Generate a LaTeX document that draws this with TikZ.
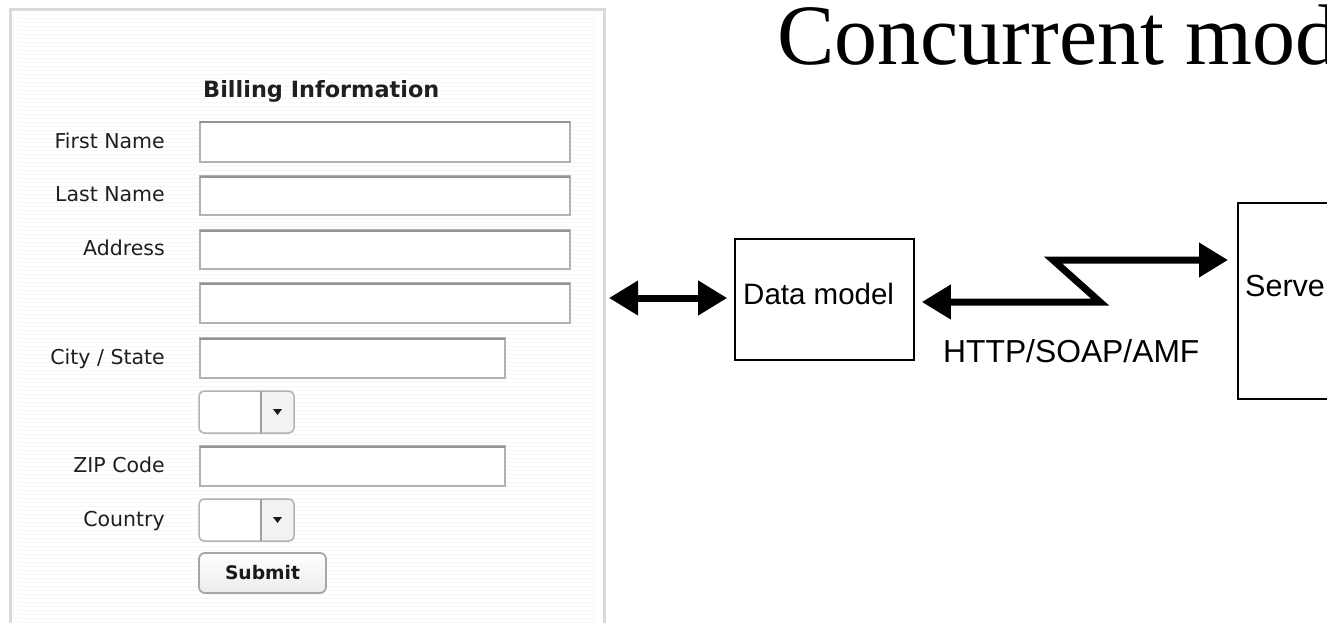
\documentclass[tikz,border=0pt]{standalone}
\usepackage{fontspec}
\setmainfont{Liberation Serif}
\newfontfamily\arialf{Liberation Sans}
\newfontfamily\formf{DejaVu Sans}
\usetikzlibrary{arrows.meta,calc}
\newcommand\txtfield[4]{%
  \draw[field] (#1,#2) rectangle (#3,#4);
  \draw[fieldtop] (#1,#2+0.5) -- (#3,#2+0.5);}
\newcommand\ddfield[2]{%
  \fill[white, rounded corners=5pt] (199,#1) rectangle (294,#2);
  \begin{scope}
    \clip[rounded corners=5pt] (199,#1) rectangle (294,#2);
    \fill[gray!10] (261,#1) rectangle (294,#2);
  \end{scope}
  \draw[gray!60, line width=1.5pt, rounded corners=5pt] (199,#1) rectangle (294,#2);
  \draw[gray!75, line width=1.5pt] (261,#1) -- (261,#2);
  \fill[black!90] (273,{(#1+#2)/2-3}) -- (282,{(#1+#2)/2-3}) -- (277.5,{(#1+#2)/2+3}) -- cycle;}
\begin{document}
\begin{tikzpicture}[x=1pt,y=-1pt,
  field/.style={draw=gray!60, line width=1.5pt, fill=white},
  fieldtop/.style={draw=gray!85, line width=2pt},
  lbl/.style={anchor=base east, inner sep=0, text=black!88, font=\formf\fontsize{20.5}{24}\selectfont},
  box/.style={draw=black, line width=1.6pt, inner sep=0},
  bigarrow/.style={line width=7pt, line join=miter, {Triangle[length=29pt,width=33pt]}-{Triangle[length=29pt,width=33pt]}},
  sanslbl/.style={anchor=base west, inner sep=0, font=\arialf\fontsize{29.5}{34}\selectfont},
]
\useasboundingbox (0,0) rectangle (1327,623);
\clip (0,0) rectangle (1327,623);
\fill[white] (0,0) rectangle (1327,623);

% form panel
\foreach \yy in {14,18,...,622} \draw[gray!6, line width=0.8pt] (18,\yy) -- (596,\yy);
\draw[gray!30, line width=3pt] (604,650) -- (604,9.5) -- (10,9.5) -- (10,650);

\node[anchor=base west, inner sep=0, text=black!88, font=\formf\bfseries\fontsize{22.4}{26}\selectfont] (bill) at (203,98) {Billing Information};

\txtfield{200}{122}{570}{162}
\txtfield{200}{176}{570}{215}
\txtfield{200}{230}{570}{269}
\txtfield{200}{283}{570}{323}
\txtfield{200}{338}{505}{378}
\ddfield{391}{433}
\txtfield{200}{446}{505}{486}
\ddfield{499}{541}

\node[lbl] (fn) at (165,148) {First Name};
\node[lbl] (ln) at (165,201.5) {Last Name};
\node[lbl] (ad) at (165,255.5) {Address};
\node[lbl] (cs) at (165,364) {City / State};
\node[lbl] (zc) at (165,472) {ZIP Code};
\node[lbl] (co) at (165,526) {Country};

\draw[rounded corners=6pt, draw=gray!70, line width=1.8pt, top color=white, bottom color=gray!15] (199,553) rectangle (326,593);
\node[inner sep=0, text=black!90, font=\formf\bfseries\fontsize{18.7}{22}\selectfont] (sub) at (262.5,573) {Submit};

% title
\node[anchor=base west, inner sep=0, font=\fontsize{86}{90}\selectfont] (title) at (777,65) {Concurrent mod};

% diagram
\node[box, minimum width=179pt, minimum height=121pt] (dm) at (824.5,299.5) {};
\node[sanslbl] (dmt) at (743,304) {Data model};
\node[box, minimum width=200pt, minimum height=196pt, anchor=north west] (srv) at (1237,202) {};
\node[sanslbl, font=\arialf\fontsize{30.5}{34}\selectfont] (srvt) at (1245,296) {Serve};

\coordinate (fr) at (609,298);
\draw[bigarrow] (fr) -- ($(dm.west)+(-7,-1.5)$);

\coordinate (z1) at (1100,302);
\coordinate (z2) at (1053,260);
\draw[bigarrow] ($(dm.east)+(7,2.5)$) -- (z1) -- (z2) -- ($(srv.west |- z2)+(-9,0)$);

\node[anchor=base west, inner sep=0, font=\arialf\fontsize{31.8}{36}\selectfont] (proto) at (943,362) {HTTP/SOAP/AMF};
\end{tikzpicture}
\end{document}
